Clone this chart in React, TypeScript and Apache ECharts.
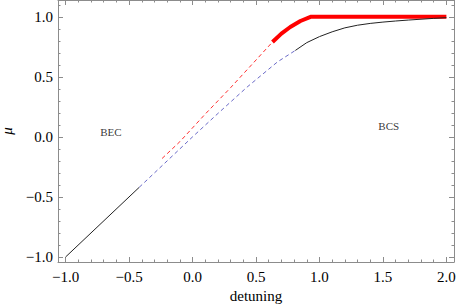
import React, { useEffect, useRef } from "react";
import * as echarts from "echarts";

const majorX = [-1.0, -0.5, 0.0, 0.5, 1.0, 1.5, 2.0];
const minorX = [-0.9, -0.8, -0.7, -0.6, -0.4, -0.3, -0.2, -0.1, 0.1, 0.2, 0.3, 0.4, 0.6, 0.7, 0.8, 0.9, 1.1, 1.2, 1.3, 1.4, 1.6, 1.7, 1.8, 1.9];
const majorY = [-1.0, -0.5, 0.0, 0.5, 1.0];
const minorY = [-0.9, -0.8, -0.7, -0.6, -0.4, -0.3, -0.2, -0.1, 0.1, 0.2, 0.3, 0.4, 0.6, 0.7, 0.8, 0.9, 1.1];

// lower solid black branch
const lowerX = [-1.0, -0.42];
const lowerY = [-1.0, -0.42];
// blue dashed branch
const blueX = [-0.42, -0.2, 0.0, 0.2, 0.43, 0.67, 0.81];
const blueY = [-0.42, -0.2, 0.0, 0.195, 0.415, 0.625, 0.72];
// upper solid black branch
const upperX = [0.81, 0.9, 1.0, 1.1, 1.2, 1.3, 1.4, 1.5, 1.6, 1.7, 1.8, 1.9, 2.0];
const upperY = [0.72, 0.785, 0.835, 0.875, 0.908, 0.93, 0.945, 0.956, 0.965, 0.973, 0.98, 0.987, 0.993];
// red dashed branch
const redDashX = [-0.24, -0.1, 0.1, 0.3, 0.5, 0.63];
const redDashY = [-0.18, -0.04, 0.19, 0.41, 0.64, 0.79];
// red thick branch
const redX = [0.63, 0.7, 0.77, 0.85, 0.93, 2.0];
const redY = [0.79, 0.86, 0.915, 0.965, 1.0, 1.0];

const labelNames = ["BEC", "BCS"];
const labelX = [-0.643, 1.546];
const labelY = [0.04, 0.09];

const zip = (xs: number[], ys: number[]) => xs.map((x, i) => [x, ys[i]]);
const fmt = (v: number) => (v < 0 ? "\u2212" : "") + Math.abs(v).toFixed(1);

const FONT = "Liberation Serif";
const AXIS_COLOR = "#8c8c8c";

export default function App() {
  const ref = useRef<HTMLDivElement>(null);
  useEffect(() => {
    if (!ref.current) return;
    const chart = echarts.init(ref.current, null, { renderer: "svg" });
    const xMin = -1.06, xMax = 2.06, yMin = -1.042, yMax = 1.14;
    const baseX = (pos: string, ticks: number[], len: number, line: boolean, labels: boolean, name?: string) => ({
      type: "value", position: pos, min: xMin, max: xMax,
      name: name, nameLocation: "middle", nameGap: 23,
      nameTextStyle: { fontFamily: FONT, fontSize: 15, color: "#000" },
      axisLine: { show: line, onZero: false, lineStyle: { color: AXIS_COLOR, width: 1 } },
      axisTick: { show: true, inside: true, length: len, customValues: ticks, lineStyle: { color: AXIS_COLOR, width: 1 } },
      axisLabel: { show: labels, customValues: ticks, formatter: fmt, margin: 7, color: "#000", fontFamily: FONT, fontSize: 15 },
      splitLine: { show: false },
    });
    const baseY = (pos: string, ticks: number[], len: number, line: boolean, labels: boolean, name?: string) => ({
      type: "value", position: pos, min: yMin, max: yMax,
      name: name, nameLocation: "middle", nameGap: 41, nameRotate: 90,
      nameTextStyle: { fontFamily: FONT, fontSize: 15, fontStyle: "italic", color: "#000" },
      axisLine: { show: line, onZero: false, lineStyle: { color: AXIS_COLOR, width: 1 } },
      axisTick: { show: true, inside: true, length: len, customValues: ticks, lineStyle: { color: AXIS_COLOR, width: 1 } },
      axisLabel: { show: labels, customValues: ticks, formatter: fmt, margin: 5, color: "#000", fontFamily: FONT, fontSize: 15 },
      splitLine: { show: false },
    });
    const line = (xs: number[], ys: number[], color: string, width: number, dashed: boolean) => ({
      type: "line", xAxisIndex: 0, yAxisIndex: 0, data: zip(xs, ys), showSymbol: false, symbol: "none",
      lineStyle: { color, width, type: dashed ? [4, 3] : "solid", cap: "butt" }, silent: true,
    });
    chart.setOption({
      animation: false,
      grid: { left: 58, right: 3, top: 0, bottom: 43, containLabel: false, outerBoundsMode: "none" },
      xAxis: [
        baseX("bottom", majorX, 5, true, true, "detuning"),
        baseX("bottom", minorX, 2.5, false, false),
        baseX("top", majorX, 5, true, false),
        baseX("top", minorX, 2.5, false, false),
      ],
      yAxis: [
        baseY("left", majorY, 5, true, true, "\u03bc"),
        baseY("left", minorY, 2.5, false, false),
        baseY("right", majorY, 5, true, false),
        baseY("right", minorY, 2.5, false, false),
      ],
      series: [
        line(lowerX, lowerY, "#222222", 1, false),
        line(blueX, blueY, "#6a6ac8", 1, true),
        line(redDashX, redDashY, "#ff3030", 1, true),
        line(redX, redY, "#ff0000", 4, false),
        line(upperX, upperY, "#222222", 1, false),
        {
          type: "scatter", xAxisIndex: 0, yAxisIndex: 0, symbolSize: 1,
          itemStyle: { color: "rgba(0,0,0,0)" }, silent: true,
          data: labelNames.map((n, i) => ({ name: n, value: [labelX[i], labelY[i]] })),
          label: { show: true, position: "inside", formatter: "{b}", color: "#000", fontFamily: FONT, fontSize: 11 },
        },
      ],
    });
    return () => chart.dispose();
  }, []);
  return <div ref={ref} style={{ width: 457, height: 305, position: "absolute", left: 0, top: 0 }} />;
}
